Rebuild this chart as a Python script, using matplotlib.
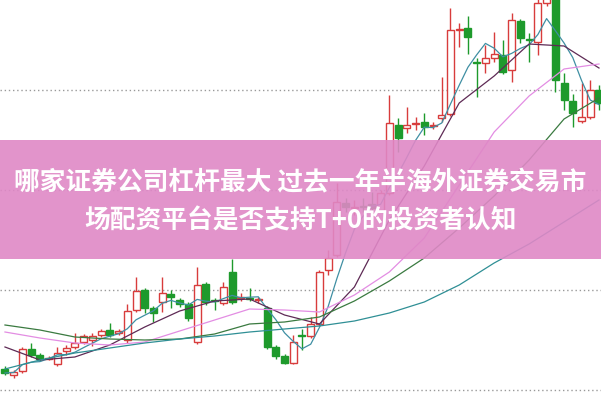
import matplotlib.pyplot as plt
import matplotlib.patches as mpatches
import numpy as np
import pandas as pd

plt.rcParams['font.family'] = ['Noto Sans CJK SC', 'DejaVu Sans']

# daily candles (price units)
opens = [10.21, 10.15, 10.19, 10.41, 10.35, 10.31, 10.26, 10.39, 10.43, 10.48,
         10.50, 10.55, 10.60, 10.57, 10.50, 10.80, 11.00, 10.82, 10.88, 10.96,
         10.90, 10.86, 10.48, 11.06, 10.90, 10.87, 11.18, 10.92, 10.92, 10.90,
         10.82, 10.43, 10.34, 10.27, 10.55, 10.54, 10.66, 11.20, 11.35, 11.87,
         11.82, 11.84, 11.86, 11.80, 11.97, 12.65, 12.62, 12.66, 12.68, 12.64,
         12.72, 12.76, 13.60, 13.62, 13.28, 13.27, 13.32, 13.35, 13.20, 13.69,
         13.51, 13.48, 13.87, 13.95, 13.07, 12.89, 12.69, 12.73, 13.00]
closes = [10.17, 10.18, 10.41, 10.35, 10.31, 10.32, 10.37, 10.42, 10.47, 10.54,
          10.54, 10.59, 10.55, 10.59, 10.79, 10.99, 10.82, 10.77, 10.97, 10.93,
          10.86, 10.72, 11.05, 10.88, 10.89, 11.03, 10.88, 10.93, 10.91, 10.91,
          10.43, 10.34, 10.27, 10.48, 10.54, 10.66, 11.18, 11.32, 11.88, 11.83,
          11.83, 11.83, 11.82, 11.97, 12.67, 12.52, 12.65, 12.67, 12.63, 12.65,
          12.75, 13.60, 13.61, 13.53, 13.27, 13.32, 13.36, 13.18, 13.70, 13.52,
          13.50, 13.87, 13.98, 13.10, 12.90, 12.77, 12.73, 13.00, 12.87]
highs = [10.24, 10.20, 10.43, 10.47, 10.37, 10.34, 10.43, 10.45, 10.57, 10.56,
         10.57, 10.61, 10.67, 10.61, 10.86, 11.13, 11.02, 10.84, 11.13, 11.00,
         10.92, 10.88, 11.23, 11.08, 10.92, 11.08, 11.31, 10.97, 11.02, 10.93,
         10.84, 10.45, 10.36, 10.55, 10.61, 10.73, 11.20, 11.40, 12.07, 11.92,
         11.90, 11.92, 11.98, 12.00, 12.95, 12.72, 12.83, 12.73, 12.77, 12.68,
         13.13, 13.82, 13.67, 13.74, 13.32, 13.45, 13.58, 13.50, 13.77, 13.71,
         13.57, 13.95, 14.05, 14.00, 13.17, 12.96, 13.07, 13.10, 13.05]
lows = [10.15, 10.12, 10.17, 10.33, 10.29, 10.30, 10.24, 10.35, 10.41, 10.46,
        10.44, 10.53, 10.53, 10.55, 10.47, 10.78, 10.77, 10.68, 10.78, 10.82,
        10.83, 10.69, 10.46, 10.85, 10.80, 10.85, 10.86, 10.89, 10.89, 10.87,
        10.41, 10.31, 10.26, 10.26, 10.40, 10.52, 10.64, 11.15, 11.33, 11.78,
        11.75, 11.78, 11.78, 11.78, 11.95, 12.38, 12.57, 12.60, 12.55, 12.61,
        12.68, 12.74, 13.43, 13.36, 12.93, 13.17, 13.28, 13.16, 13.08, 13.47,
        13.28, 13.35, 13.84, 12.98, 12.80, 12.63, 12.67, 12.71, 12.80]

# longer moving averages, read every 4th day
ma_days = list(range(0, 69, 4))
ma10 = [10.43, 10.30, 10.33, 10.45, 10.63, 10.79, 10.89, 10.91, 10.75,
        10.66, 11.03, 11.70, 12.24, 12.87, 13.14, 13.46, 13.44, 13.22]
ma20 = [10.58, 10.52, 10.47, 10.45, 10.48, 10.59, 10.70, 10.81, 10.80,
        10.78, 10.95, 11.18, 11.52, 12.05, 12.58, 12.94, 13.21, 13.26]
ma30 = [10.65, 10.60, 10.53, 10.51, 10.50, 10.51, 10.56, 10.66, 10.68,
        10.73, 10.89, 11.09, 11.32, 11.62, 11.94, 12.30, 12.71, 12.92]
ma60 = [10.21, 10.30, 10.37, 10.42, 10.47, 10.51, 10.54, 10.58, 10.61,
        10.64, 10.69, 10.77, 10.88, 11.05, 11.27, 11.46, 11.68, 11.90]

grid_levels = [10, 11, 12, 13]
title_lines = ['哪家证券公司杠杆最大 过去一年半海外证券交易市',
               '场配资平台是否支持T+0的投资者认知']

red = '#d83c3c'
green = '#1e9a2c'

fig = plt.figure(figsize=(6.01, 4.01), dpi=100)
ax = fig.add_axes([0, 0, 1, 1])

o = np.array(opens)
c = np.array(closes)
h = np.array(highs)
l = np.array(lows)
x = np.arange(len(c))
up = c >= o
lo = np.minimum(o, c)
hi = np.maximum(o, c)
hgt = np.maximum(hi - lo, 0.006)

for lev in grid_levels:
    ax.axhline(lev, color='#999999', lw=1, ls=(0, (1, 2)), zorder=0)

ax.vlines(x[up], hi[up], h[up], color=red, lw=1, zorder=2)
ax.vlines(x[up], l[up], lo[up], color=red, lw=1, zorder=2)
ax.vlines(x[~up], l[~up], h[~up], color=green, lw=1, zorder=2)
ax.bar(x[up], hgt[up], 0.8, bottom=lo[up], facecolor='white', edgecolor=red, lw=1, zorder=3)
ax.bar(x[~up], hgt[~up], 0.8, bottom=lo[~up], color=green, edgecolor=green, lw=1, zorder=3)

ma5 = pd.Series(c).rolling(5, min_periods=1).mean()
ax.plot(x, ma5, color='#3f8fa3', lw=0.9, zorder=4)
ax.plot(ma_days, ma10, color='#5e2a55', lw=0.9, zorder=4)
ax.plot(ma_days, ma20, color='#e38de3', lw=0.9, zorder=4)
ax.plot(ma_days, ma30, color='#3a7a40', lw=0.9, zorder=4)
ax.plot(ma_days, ma60, color='#2f8f95', lw=0.9, zorder=4)

ax.set_xlim(-0.57, 68.23)
ax.set_ylim(9.89, 13.90)
ax.axis('off')

# pink banner with title
fig.patches.append(mpatches.Rectangle((0, 0.354), 1, 0.297, transform=fig.transFigure,
                                      facecolor='#df88c6', alpha=0.9, edgecolor='none', zorder=5))
fig.text(0.5, 0.545, title_lines[0], ha='center', va='center', color='white',
         fontsize=18.5, fontweight='heavy', zorder=6)
fig.text(0.5, 0.449, title_lines[1], ha='center', va='center', color='white',
         fontsize=18.5, fontweight='heavy', zorder=6)

fig.savefig('out.png', dpi=100)
